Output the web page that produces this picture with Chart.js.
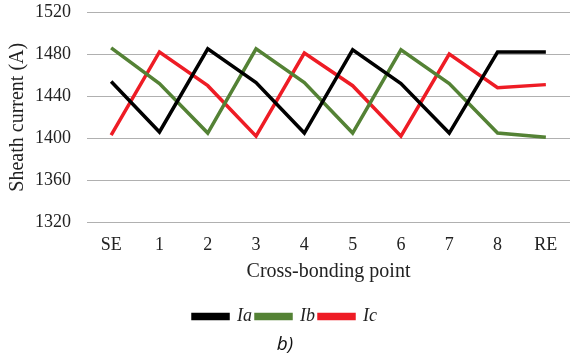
<!DOCTYPE html>
<html>
<head>
<meta charset="utf-8">
<script src="https://cdn.jsdelivr.net/npm/chart.js@4/dist/chart.umd.min.js"></script>
<style>
  html, body { margin: 0; padding: 0; background: #fff; }
  #wrap { width: 570px; height: 362px; }
</style>
</head>
<body>
<div id="wrap"><canvas id="currentChart" width="570" height="362"></canvas></div>
<script>
// Cross-bonding points along the cable
const points = ['SE', '1', '2', '3', '4', '5', '6', '7', '8', 'RE'];

// Sheath currents per phase (A)
const ia = [1454, 1406, 1485, 1453, 1405, 1484, 1452, 1405, 1482, 1482];
const ib = [1486, 1452, 1405, 1485, 1453, 1405, 1484, 1452, 1405, 1401];
const ic = [1403, 1482, 1450, 1402, 1481, 1450, 1402, 1480, 1448, 1451];

const yTicks = [1320, 1360, 1400, 1440, 1480, 1520];

const serif = "'Liberation Serif', 'Times New Roman', serif";

function series(label, data, color) {
  return {
    label: label,
    data: data,
    borderColor: color,
    backgroundColor: color,
    borderWidth: 3.5,
    pointRadius: 0,
    tension: 0,
    fill: false
  };
}

const ctx = document.getElementById('currentChart').getContext('2d');
new Chart(ctx, {
  type: 'line',
  data: {
    labels: points,
    datasets: [
      series('Ia', ia, '#000000'),
      series('Ib', ib, '#548235'),
      series('Ic', ic, '#ee1c25')
    ]
  },
  options: {
    responsive: false,
    animation: false,
    layout: { padding: { top: 0, right: 0, left: 0, bottom: 4 } },
    scales: {
      x: {
        offset: true,
        grid: { display: false },
        border: { display: false },
        ticks: { color: '#222', font: { family: serif, size: 18, lineHeight: 1 }, padding: 6 },
        title: {
          display: true,
          text: 'Cross-bonding point',
          color: '#222',
          font: { family: serif, size: 20, lineHeight: 1 },
          padding: { top: 1, bottom: 22 }
        }
      },
      y: {
        min: yTicks[0],
        max: yTicks[yTicks.length - 1],
        afterBuildTicks: (axis) => { axis.ticks = yTicks.map(v => ({ value: v })); },
        // fixed axis width and top gap so the plot sits where the original does
        afterFit: (axis) => { axis.width = 87; axis.paddingTop = 12; },
        grid: { color: '#b0b0b0', lineWidth: 1, drawTicks: false },
        border: { display: false },
        ticks: {
          color: '#222',
          font: { family: serif, size: 18 },
          padding: 16,
          callback: (v) => String(v)
        },
        title: {
          display: true,
          text: 'Sheath current (A)',
          color: '#222',
          font: { family: serif, size: 20, lineHeight: 1 },
          padding: { top: 8, bottom: 6 }
        }
      }
    },
    plugins: {
      legend: {
        position: 'bottom',
        labels: {
          boxWidth: 35,
          boxHeight: 4,
          padding: 4,
          color: '#222',
          font: { family: serif, size: 18, style: 'italic' }
        }
      },
      title: {
        display: true,
        position: 'bottom',
        text: 'b)',
        color: '#111',
        font: { family: "'Open Sans', sans-serif", size: 19, style: 'italic', weight: 'normal', lineHeight: 1 },
        padding: { top: 0, bottom: 3.5 }
      },
      tooltip: { enabled: false }
    }
  }
});
</script>
</body>
</html>
